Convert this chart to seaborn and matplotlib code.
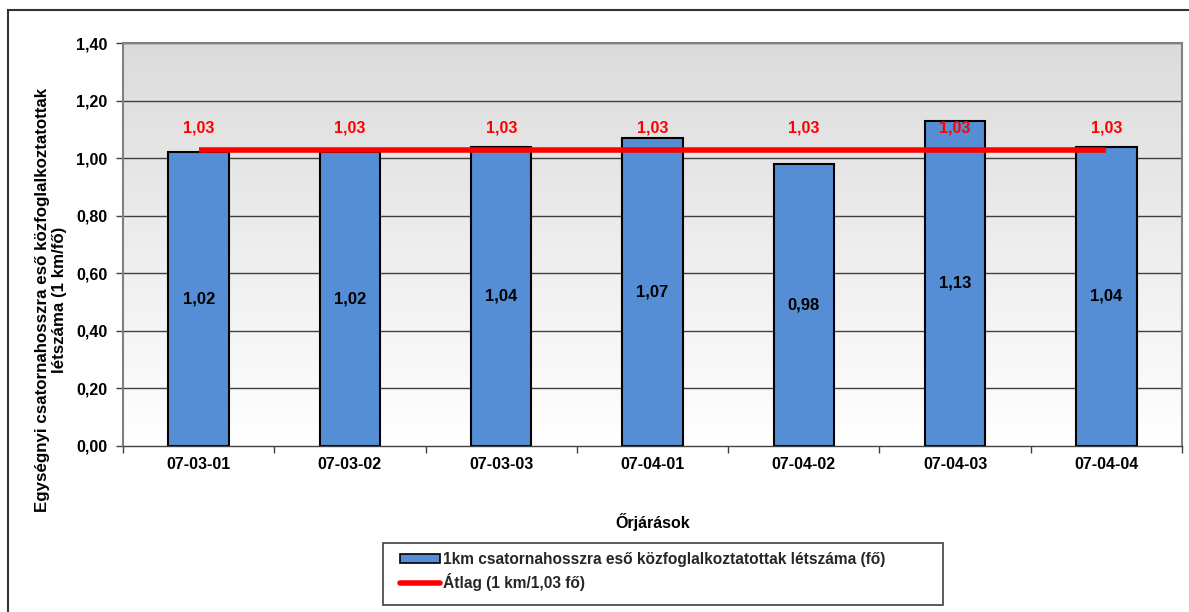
import numpy as np
import matplotlib
matplotlib.use("Agg")
import matplotlib.pyplot as plt
import seaborn as sns
from matplotlib.patches import Rectangle, Patch
from matplotlib.lines import Line2D
from matplotlib.ticker import FixedLocator, FuncFormatter

# Data
orjaratok = ["07-03-01", "07-03-02", "07-03-03", "07-04-01", "07-04-02", "07-04-03", "07-04-04"]
letszam = [1.02, 1.02, 1.04, 1.07, 0.98, 1.13, 1.04]
atlag = [1.03, 1.03, 1.03, 1.03, 1.03, 1.03, 1.03]

bar_label = "1km csatornahosszra eső közfoglalkoztatottak létszáma (fő)"
line_label = "Átlag (1 km/1,03 fő)"
ylabel = "Egységnyi csatornahosszra eső közfoglalkoztatottak\nlétszáma (1 km/fő)"
xlabel = "Őrjárások"

sns.set_theme(style="white")
plt.rcParams["font.family"] = ["Liberation Sans", "DejaVu Sans"]
plt.rcParams["font.weight"] = "bold"

BAR_COLOR = "#558ED5"
LINE_COLOR = "#FF0000"

W, H = 1189, 612
fig = plt.figure(figsize=(W / 100, H / 100), dpi=100)
ax = fig.add_axes([123 / W, 1 - 446 / H, (1182 - 123) / W, (446 - 43) / H])

# Outer chart frame
fig.patches.append(Rectangle((8 / W, -0.05), 1.1, 1 - 10 / H + 0.05,
                             transform=fig.transFigure, fill=False,
                             edgecolor="#333333", linewidth=1.5, zorder=0))

# Vertical grey-to-white gradient in the plot area (grey at the top)
grad = np.linspace(0.86, 1.0, 256).reshape(-1, 1)
ax.imshow(np.dstack([grad, grad, grad]), extent=(-0.5, 6.5, 0.0, 1.4),
          aspect="auto", zorder=0, origin="upper")

# Horizontal grid lines
for yv in np.arange(0.2, 1.41, 0.2):
    ax.axhline(yv, color="#404040", linewidth=1.0, zorder=1)

sns.barplot(x=orjaratok, y=letszam, color=BAR_COLOR, saturation=1,
            edgecolor="black", linewidth=1.5, width=0.4, ax=ax, zorder=2)

ax.plot(np.arange(len(orjaratok)), atlag, color=LINE_COLOR, linewidth=4,
        solid_capstyle="butt", zorder=3)

# Value labels
for i, (v, a) in enumerate(zip(letszam, atlag)):
    ax.text(i, v / 2, f"{v:.2f}".replace(".", ","), ha="center", va="center",
            fontsize=12, fontweight="bold", color="black", zorder=4)
    ax.text(i, a + 0.075, f"{a:.2f}".replace(".", ","), ha="center", va="center",
            fontsize=11.5, fontweight="bold", color=LINE_COLOR, zorder=4)

ax.set_xlim(-0.5, 6.5)
ax.set_ylim(0, 1.4)
ax.yaxis.set_major_locator(FixedLocator(np.round(np.arange(0, 1.41, 0.2), 2)))
ax.yaxis.set_major_formatter(FuncFormatter(lambda v, p: f"{v:.2f}".replace(".", ",")))
ax.tick_params(axis="y", which="major", direction="out", length=5, width=1,
               color="#404040", labelsize=11.5, pad=6, left=True)
ax.tick_params(axis="x", which="major", length=0, labelsize=11.5, pad=8)
ax.xaxis.set_minor_locator(FixedLocator(np.arange(-0.5, 6.6, 1.0)))
ax.tick_params(axis="x", which="minor", direction="out", length=5, width=1,
               color="#404040", bottom=True)
for lbl in ax.get_xticklabels() + ax.get_yticklabels():
    lbl.set_fontweight("bold")
    lbl.set_color("black")

for side in ["top", "right", "left"]:
    ax.spines[side].set_color("#808080")
    ax.spines[side].set_linewidth(1.5)
ax.spines["bottom"].set_color("#404040")
ax.spines["bottom"].set_linewidth(1.0)

ax.set_xlabel(xlabel, fontsize=11.5, fontweight="bold", color="black", labelpad=0)
ax.xaxis.set_label_coords(0.5, -(513 - 446) / (446 - 43))
ax.set_ylabel(ylabel, fontsize=12.2, fontweight="bold", color="black", linespacing=1.15)
ax.yaxis.set_label_coords((67 - 123) / (1182 - 123), (446 - 300) / (446 - 43))

# Legend box and entries
fig.patches.append(Rectangle((383 / W, 1 - 605 / H), (943 - 383) / W, (605 - 543) / H,
                             transform=fig.transFigure, fill=True, facecolor="white",
                             edgecolor="#404040", linewidth=1.2, zorder=5))
handles = [Patch(facecolor=BAR_COLOR, edgecolor="black", linewidth=1.2),
           Line2D([0], [0], color=LINE_COLOR, linewidth=4)]
leg = fig.legend(handles, [bar_label, line_label], loc="upper left",
                 bbox_to_anchor=(400 / W, 1 - 552 / H), frameon=False,
                 prop={"weight": "bold", "size": 11.2},
                 handlelength=2.6, handleheight=0.6, handletextpad=0.15,
                 borderpad=0, labelspacing=0.4, borderaxespad=0)
leg.set_zorder(6)

fig.savefig("out.png", dpi=100, facecolor="white")
